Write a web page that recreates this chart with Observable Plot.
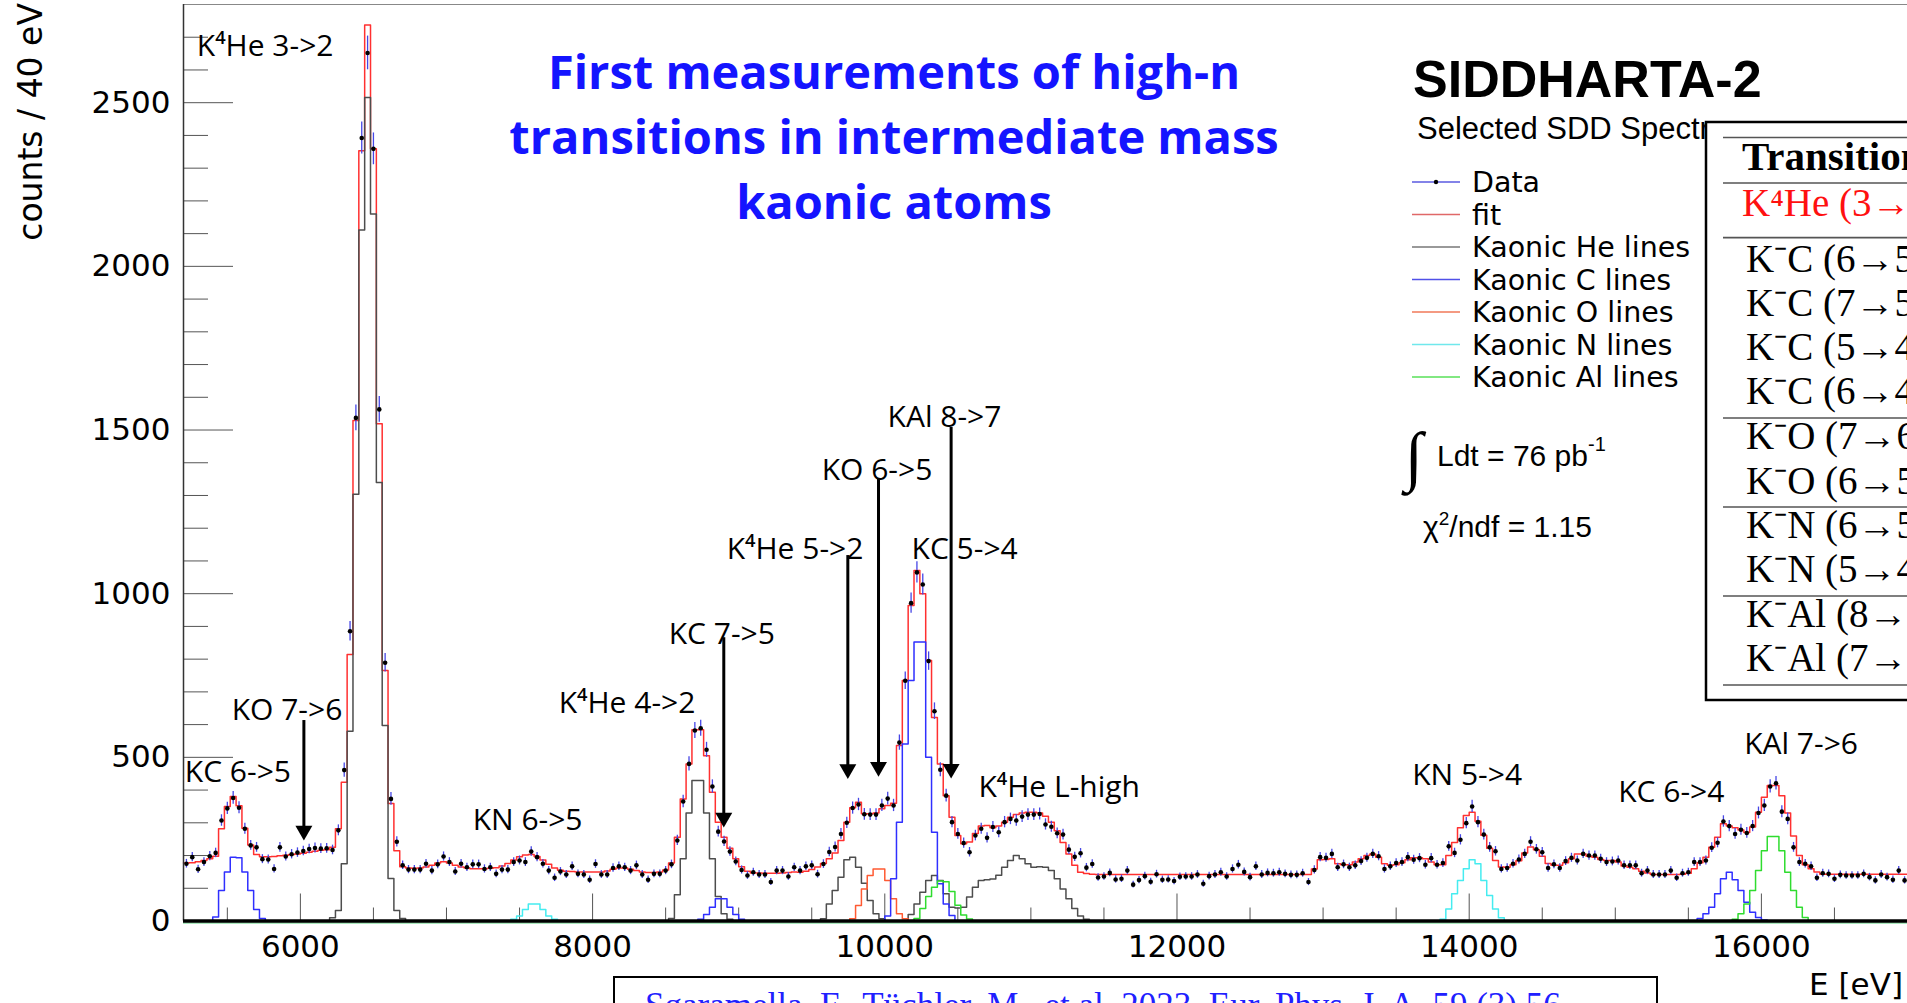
<!DOCTYPE html>
<html><head><meta charset="utf-8">
<script src="https://cdn.jsdelivr.net/npm/d3@7"></script>
<script src="https://cdn.jsdelivr.net/npm/@observablehq/plot@0.6"></script>
<style>
html,body{margin:0;padding:0;background:#fff;overflow:hidden;}
#chart{position:relative;width:1907px;height:1003px;}
</style></head><body><div id="chart"></div>
<script>
// ---------------- DATA ----------------
const binStart = 5200;   // eV, left edge of first bin
const binWidth = 40;     // eV per bin

// measured counts per 40 eV bin (5200 .. 17000 eV)
const counts = [
175,195,158,180,198,208,307,344,376,346,
282,231,225,189,188,159,225,197,204,209,
214,220,223,221,222,217,277,461,885,1537,
2392,2652,2359,1563,789,373,242,170,157,157,
157,175,154,173,197,180,151,175,164,173,
173,159,164,144,157,157,180,185,180,212,
195,175,154,132,151,142,167,144,142,126,
174,142,142,162,167,164,154,170,142,126,
144,144,154,173,246,365,480,582,589,523,
411,273,243,212,182,156,139,149,142,142,
119,154,154,136,164,154,167,170,143,174,
211,226,266,300,345,356,326,325,325,353,
374,353,545,734,971,1065,1028,794,641,462,
383,302,266,238,210,261,282,254,287,271,
302,312,307,319,325,325,327,295,288,268,
264,218,196,207,163,174,133,136,147,127,
129,154,111,125,137,120,143,126,127,122,
135,136,136,142,114,137,142,149,136,159,
172,150,134,167,142,147,146,149,144,141,
141,146,119,156,195,193,205,164,173,164,
170,183,193,205,198,159,167,177,180,195,
187,192,172,192,172,177,228,208,248,299,
350,302,264,225,213,159,162,175,188,205,
242,219,210,162,173,162,183,193,185,205,
200,200,190,180,182,185,170,170,170,146,
154,142,142,142,154,132,146,149,180,180,
185,224,239,304,290,266,279,269,290,330,
353,411,421,334,312,225,180,175,167,132,
146,144,129,141,139,139,139,144,134,124,
142,134,126,154,124];

// total fit, same bins
const fitValues = [
177,178,181,185,190,198,282,350,380,352,
283,232,203,196,196,197,199,201,203,205,
207,210,213,216,218,225,282,424,814,1529,
2353,2737,2359,1519,765,359,215,166,162,161,
162,165,170,177,181,177,170,165,162,160,
160,160,161,163,168,176,186,196,202,203,
197,186,173,162,155,152,151,150,150,150,
150,150,153,158,162,162,158,154,150,148,
148,150,156,177,256,373,480,584,584,505,
393,302,256,222,190,166,152,147,147,146,
146,146,147,148,150,149,152,157,165,176,
190,208,246,302,346,363,328,328,330,343,
353,360,536,735,964,1071,1000,796,622,480,
383,317,261,236,241,267,290,292,285,290,
302,317,325,330,332,332,330,320,302,276,
240,205,170,149,145,143,142,142,142,142,
142,142,142,142,142,142,142,142,142,142,
142,142,142,142,142,142,142,142,142,142,
142,142,142,142,142,142,142,142,142,142,
142,142,142,159,187,188,190,175,172,172,
180,190,200,205,195,175,170,172,178,187,
193,193,190,180,172,172,200,240,285,322,
332,305,262,222,185,165,164,172,184,208,
226,218,198,176,170,170,178,190,205,205,
198,195,188,185,185,180,168,164,160,152,
147,142,142,142,142,142,143,146,160,178,
195,225,256,297,290,285,278,270,287,332,
378,414,414,383,330,260,200,172,160,150,
143,143,143,143,143,143,143,143,143,143,
143,143,143,143,143];

// component lines: start energy (eV) of each segment + bin values
const heStarts = [6160, 8480, 9520, 10120];
const he32   = [0,10,32,175,580,1304,2111,2516,2160,1340,597,130,32,8,0];
const he42   = [0,8,80,190,330,429,429,330,190,75,22,5,0];
const he52   = [0,7,52,93,134,187,195,164,115,63,22,7,0];
const heHigh = [0,20,52,88,124,139,124,83,42,40,42,73,103,124,126,128,140,164,185,200,190,175,164,166,164,154,129,98,68,38,15,5,0];
const cStarts = [5360, 8680, 9960, 15520];
const c65 = [0,12,93,150,195,193,150,93,35,8,0];
const c75 = [0,5,20,42,68,68,42,20,5,0];
const c54 = [0,15,129,302,541,735,852,852,500,271,114,52,17,0];
const c64 = [0,8,22,42,83,129,149,126,93,57,27,11,3,0];
const oStarts = [9720];
const o65 = [0,7,47,98,139,159,159,124,68,22,7,0];
const nStarts = [7400, 13760];
const n65 = [0,5,15,35,52,52,35,15,5,0];
const n54 = [0,5,37,83,124,160,187,175,124,78,37,10,0];
const alStarts = [10160, 15760];
const al87 = [0,8,38,75,103,122,120,90,48,18,6,0];
const al76 = [0,5,22,52,93,154,215,258,258,215,149,93,42,11,0];

// axis ticks
const xMajor = [6000, 8000, 10000, 12000, 14000, 16000];
const xMinor = [5500,6500,7000,7500,8500,9000,9500,10500,11000,11500,12500,13000,13500,14500,15000,15500,16500];
const yMajor = [0, 500, 1000, 1500, 2000, 2500];
const yMinor = [100,200,300,400,600,700,800,900,1100,1200,1300,1400,1600,1700,1800,1900,2100,2200,2300,2400,2600,2700];

// annotations (label, energy eV, height in counts)
const annoLabels = ["K⁴He 3->2","KO 7->6","KC 6->5","KN 6->5","K⁴He 4->2","KC 7->5","K⁴He 5->2","KO 6->5","KAl 8->7","KC 5->4","K⁴He L-high","KN 5->4","KC 6->4","KAl 7->6"];
const annoEnergy = [5291,5530,5209,7179,7768,8521,8918,9568,10019,10183,10641,13610,15020,15882];
const annoCounts = [2671,643,454,307,664,875,1136,1378,1538,1136,408,444,392,539];
const arrowEnergy = [6024, 8898, 9747, 9957, 10454];
const arrowTop = [588, 841, 1092, 1327, 1483];
const arrowTip = [246, 286, 434, 441, 435];

// legend + table text
const legendNames = ["Data","fit","Kaonic He lines","Kaonic C lines","Kaonic O lines","Kaonic N lines","Kaonic Al lines"];
const tableRows = ["K⁻C (6→5)","K⁻C (7→5)","K⁻C (5→4)","K⁻C (6→4)","K⁻O (7→6)","K⁻O (6→5)","K⁻N (6→5)","K⁻N (5→4)","K⁻Al (8→7)","K⁻Al (7→6)"];

// ---------------- BUILD ----------------
const colors = {data:"#4646e6", fit:"#ff3030", he:"#4d4d4d", c:"#2f2fff", o:"#ff5a32", n:"#45ecf0", al:"#2fdc2f"};
const legendColors = ["#5a5ae0","#e06868","#777777","#5050e8","#f07858","#70e8ec","#58e058"];

const bins = counts.map((c, i) => ({e: binStart + binWidth * (i + 0.5), c}));
const fitSteps = fitValues.map((v, i) => ({e: binStart + binWidth * i, v}))
  .concat([{e: binStart + binWidth * fitValues.length, v: fitValues[fitValues.length - 1]}]);
function steps(start, vals) {
  return vals.map((v, i) => ({e: start + binWidth * i, v})).concat([{e: start + binWidth * vals.length, v: 0}]);
}
const comps = [
  {color: colors.he, segs: [[heStarts[0], he32], [heStarts[1], he42], [heStarts[2], he52], [heStarts[3], heHigh]]},
  {color: colors.o, segs: [[oStarts[0], o65]]},
  {color: colors.c, segs: [[cStarts[0], c65], [cStarts[1], c75], [cStarts[2], c54], [cStarts[3], c64]]},
  {color: colors.n, segs: [[nStarts[0], n65], [nStarts[1], n54]]},
  {color: colors.al, segs: [[alStarts[0], al87], [alStarts[1], al76]]}
];
const compMarks = [];
for (const comp of comps) for (const [s, v] of comp.segs)
  compMarks.push(Plot.line(steps(s, v), {x: "e", y: "v", curve: "step-after", stroke: comp.color, strokeWidth: 1.5}));

const annos = annoLabels.map((t, i) => ({t, e: annoEnergy[i], c: annoCounts[i]}));
const arrows = arrowEnergy.map((e, i) => ({e, top: arrowTop[i], tip: arrowTip[i]}));

const svg = Plot.plot({
  width: 1907, height: 1003,
  marginLeft: 183, marginRight: 0, marginTop: 4, marginBottom: 82.5,
  x: {domain: [5200, 17000]},
  y: {domain: [0, 2800]},
  style: {fontFamily: "DejaVu Sans", background: "white", color: "black", overflow: "visible"},
  marks: [
    Plot.ruleY([2800], {stroke: "#888", strokeWidth: 1.2}),
    Plot.axisY({ticks: yMajor, tickSize: -50, fill: "none", stroke: "#555", label: null}),
    Plot.axisY({ticks: yMinor, tickSize: -25, fill: "none", stroke: "#555", label: null}),
    Plot.axisY({ticks: yMajor, tickSize: 0, tickPadding: 13, fontSize: 31, tickFormat: "d", label: null}),
    Plot.axisX({ticks: xMajor, tickSize: -27, fill: "none", stroke: "#555", label: null}),
    Plot.axisX({ticks: xMinor, tickSize: -13, fill: "none", stroke: "#555", label: null}),
    Plot.axisX({ticks: xMajor, tickSize: 0, tickPadding: 14, fontSize: 31, tickFormat: "d", label: null}),
    Plot.line(fitSteps, {x: "e", y: "v", curve: "step-after", stroke: colors.fit, strokeWidth: 1.5}),
    ...compMarks,
    Plot.ruleX(bins, {x: "e", y1: d => d.c - Math.sqrt(d.c), y2: d => d.c + Math.sqrt(d.c), stroke: colors.data, strokeWidth: 1.3}),
    Plot.dot(bins, {x: "e", y: "c", r: 2.3, fill: "black"}),
    Plot.ruleX([5200], {stroke: "#333", strokeWidth: 1.5}),
    Plot.ruleY([0], {stroke: "#8fe0a8", strokeWidth: 1.5, dy: 2}),
    Plot.ruleY([0], {stroke: "black", strokeWidth: 3.5}),
    Plot.ruleX(arrows, {x: "e", y1: "top", y2: "tip", stroke: "black", strokeWidth: 3, dy: -8}),
    Plot.dot(arrows, {x: "e", y: "tip", symbol: "triangle", r: 6.3, fill: "black", stroke: "none", rotate: 180, dy: -9.8}),
    Plot.text(annos, {x: "e", y: "c", text: "t", textAnchor: "start", fontSize: 30, fontFamily: "Open Sans", fill: "black"})
  ]
});
document.getElementById("chart").appendChild(svg);

// ---------------- OVERLAY TEXT (legend, title, table) ----------------
const g = d3.select(svg).append("g").attr("text-anchor", "start");

// y axis title
g.append("text").attr("transform", "translate(42,3) rotate(-90)").attr("text-anchor", "end")
  .attr("font-family", "DejaVu Sans").attr("font-size", 33).text("counts / 40 eV");
// x axis title
g.append("text").attr("x", 1903).attr("y", 995).attr("text-anchor", "end")
  .attr("font-family", "DejaVu Sans").attr("font-size", 31).text("E [eV]");

// title
const title = g.append("text").attr("text-anchor", "middle").attr("font-family", "Open Sans")
  .attr("font-weight", 700).attr("font-size", 47).attr("fill", "#1414ff");
["First measurements of high-n", "transitions in intermediate mass", "kaonic atoms"].forEach((t, i) =>
  title.append("tspan").attr("x", 894).attr("y", 89 + i * 65).text(t));

// SIDDHARTA-2 block
g.append("text").attr("x", 1413).attr("y", 97).attr("font-family", "Liberation Sans").attr("font-weight", 700)
  .attr("font-size", 52).text("SIDDHARTA-2");
g.append("text").attr("x", 1417).attr("y", 139).attr("font-family", "Liberation Sans")
  .attr("font-size", 31).text("Selected SDD Spectrum");

// legend
const legY = [182, 214.5, 247, 279.5, 312, 344.5, 377];
legendNames.forEach((name, i) => {
  g.append("line").attr("x1", 1412).attr("x2", 1460).attr("y1", legY[i]).attr("y2", legY[i])
    .attr("stroke", legendColors[i]).attr("stroke-width", 1.6);
  if (i === 0) g.append("circle").attr("cx", 1436).attr("cy", legY[i]).attr("r", 2.2).attr("fill", "black");
  g.append("text").attr("x", 1472).attr("y", legY[i] + 10).attr("font-family", "DejaVu Sans")
    .attr("font-size", 28.5).text(name);
});

// luminosity / chi2
g.append("text").attr("x", 1405).attr("y", 478).attr("font-family", "DejaVu Sans").attr("font-size", 66)
  .attr("font-weight", 300).text("∫");
const lum = g.append("text").attr("x", 1437).attr("y", 466).attr("font-family", "Liberation Sans").attr("font-size", 30);
lum.append("tspan").text("Ldt = 76 pb");
lum.append("tspan").attr("dy", -15).attr("font-size", 20).text("-1");
const chi = g.append("text").attr("x", 1423).attr("y", 537).attr("font-family", "Liberation Sans").attr("font-size", 30);
chi.append("tspan").text("χ");
chi.append("tspan").attr("dy", -12).attr("font-size", 19).text("2");
chi.append("tspan").attr("dy", 12).text("/ndf = 1.15");

// table
g.append("rect").attr("x", 1706).attr("y", 122).attr("width", 260).attr("height", 578)
  .attr("fill", "white").attr("stroke", "black").attr("stroke-width", 2.5);
[137.5, 183, 237.6, 418, 507, 596, 685].forEach(y =>
  g.append("line").attr("x1", 1723).attr("x2", 1920).attr("y1", y).attr("y2", y).attr("stroke", "#555").attr("stroke-width", 1.6));
g.append("text").attr("x", 1742).attr("y", 170).attr("font-family", "Liberation Serif").attr("font-weight", 700)
  .attr("font-size", 41).text("Transition");
g.append("text").attr("x", 1742).attr("y", 216).attr("font-family", "Liberation Serif")
  .attr("font-size", 39).attr("fill", "#ff1010").text("K⁴He (3→2)");
const rowY = [272, 316, 360, 404, 449, 493.5, 538, 582, 627, 671];
tableRows.forEach((t, i) =>
  g.append("text").attr("x", 1746).attr("y", rowY[i]).attr("font-family", "Liberation Serif")
    .attr("font-size", 39).text(t));

// citation box
g.append("rect").attr("x", 614).attr("y", 977).attr("width", 1043).attr("height", 60)
  .attr("fill", "white").attr("stroke", "black").attr("stroke-width", 2);
g.append("text").attr("x", 645).attr("y", 1017).attr("font-family", "Liberation Serif").attr("font-size", 35)
  .attr("fill", "#2020ff").text("Sgaramella, F., Tüchler, M., et al. 2023, Eur. Phys. J. A, 59 (3) 56");
</script></body></html>
